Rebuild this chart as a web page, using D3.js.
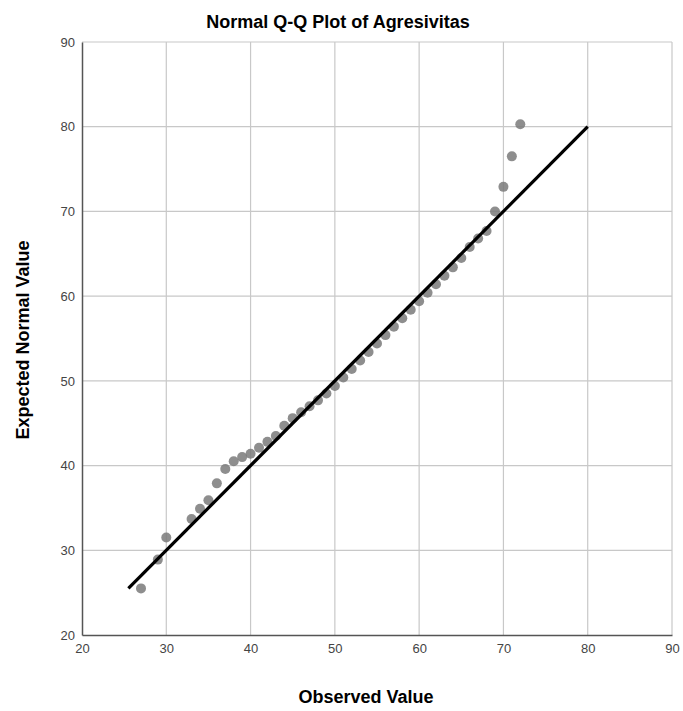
<!DOCTYPE html>
<html>
<head>
<meta charset="utf-8">
<script src="https://cdn.jsdelivr.net/npm/d3@7"></script>
<style>
  body { margin: 0; background: #fff; }
  svg { font-family: "Liberation Sans", Arial, sans-serif; }
</style>
</head>
<body>
<svg width="683" height="711"></svg>
<script>
// observed scores and their expected normal values
var observed = [27, 29, 30, 33, 34, 35, 36, 37, 38, 39, 40, 41, 42, 43, 44, 45, 46, 47, 48, 49,
  50, 51, 52, 53, 54, 55, 56, 57, 58, 59, 60, 61, 62, 63, 64, 65, 66, 67, 68, 69, 70, 71, 72]
var expected = [25.5, 28.9, 31.5, 33.7, 34.9, 35.9, 37.9, 39.6, 40.5, 41.0, 41.4, 42.1, 42.8, 43.5, 44.7, 45.6, 46.3, 47.0, 47.7, 48.5,
  49.4, 50.4, 51.4, 52.4, 53.4, 54.4, 55.4, 56.4, 57.4, 58.4, 59.4, 60.4, 61.4, 62.4, 63.4, 64.5, 65.8, 66.8, 67.7, 70.0, 72.9, 76.5, 80.3]
var refLine = [25.5, 80]
var xTicks = [20, 30, 40, 50, 60, 70, 80, 90]
var yTicks = [20, 30, 40, 50, 60, 70, 80, 90]

var width = 683
var height = 711
var margin = {top: 42, right: 11, bottom: 76, left: 82}

var x = d3.scaleLinear()
  .domain([20, 90])
  .range([margin.left, width - margin.right])

var y = d3.scaleLinear()
  .domain([20, 90])
  .range([height - margin.bottom, margin.top])

var svg = d3.select('svg')

// grid
svg.append("g")
  .selectAll("line")
  .data(xTicks.slice(1))
  .join("line")
  .attr("x1", d => x(d)).attr("x2", d => x(d))
  .attr("y1", y(20)).attr("y2", y(90))
  .attr("stroke", "#c8c8c8")
  .attr("stroke-width", 1.2)

svg.append("g")
  .selectAll("line")
  .data(yTicks.slice(1))
  .join("line")
  .attr("x1", x(20)).attr("x2", x(90))
  .attr("y1", d => y(d)).attr("y2", d => y(d))
  .attr("stroke", "#c8c8c8")
  .attr("stroke-width", 1.2)

// axes
var xAxis = g => g
  .attr("transform", `translate(0,${y(20)})`)
  .call(d3.axisBottom(x).tickValues(xTicks).tickSize(0).tickPadding(9))
  .call(g => g.select(".domain").attr("stroke", "#555").attr("stroke-width", 1.5))

var yAxis = g => g
  .attr("transform", `translate(${x(20)},0)`)
  .call(d3.axisLeft(y).tickValues(yTicks).tickSize(0).tickPadding(7))
  .call(g => g.select(".domain").attr("stroke", "#555").attr("stroke-width", 1.5))

svg.append("g").call(xAxis)
  .selectAll("text").attr("font-size", 13).attr("fill", "#444")
  .attr("font-family", "'Liberation Sans', Arial, sans-serif")
svg.append("g").call(yAxis)
  .selectAll("text").attr("font-size", 13).attr("fill", "#444")
  .attr("font-family", "'Liberation Sans', Arial, sans-serif")

// points
svg.append("g")
  .selectAll("circle")
  .data(observed)
  .join("circle")
  .attr("cx", d => x(d))
  .attr("cy", (d, i) => y(expected[i]))
  .attr("r", 5)
  .attr("fill", "#7a7a7a")
  .attr("fill-opacity", 0.85)

// reference line
svg.append("line")
  .attr("x1", x(refLine[0])).attr("y1", y(refLine[0]))
  .attr("x2", x(refLine[1])).attr("y2", y(refLine[1]))
  .attr("stroke", "#000")
  .attr("stroke-width", 3.2)

// titles
svg.append("text")
  .attr("x", 338).attr("y", 28)
  .attr("text-anchor", "middle")
  .attr("font-size", 18).attr("font-weight", "bold")
  .text("Normal Q-Q Plot of Agresivitas")

svg.append("text")
  .attr("x", 366).attr("y", 703)
  .attr("text-anchor", "middle")
  .attr("font-size", 18).attr("font-weight", "bold")
  .text("Observed Value")

svg.append("text")
  .attr("transform", "translate(29,340) rotate(-90)")
  .attr("text-anchor", "middle")
  .attr("font-size", 18).attr("font-weight", "bold")
  .text("Expected Normal Value")
</script>
</body>
</html>
